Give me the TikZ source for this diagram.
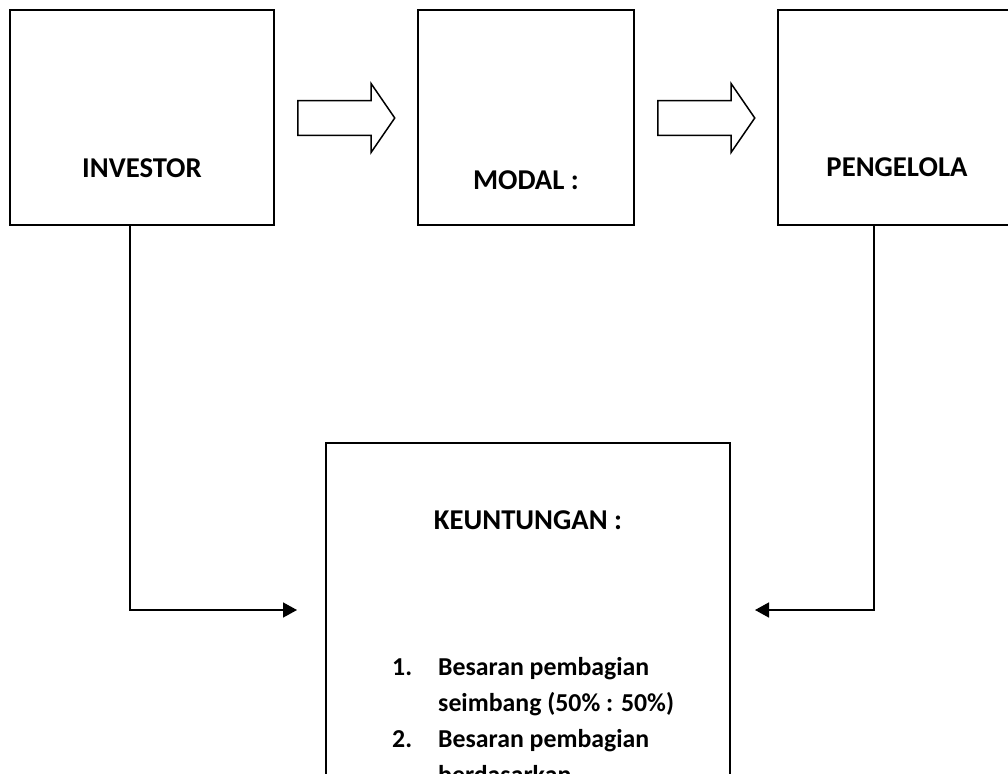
\documentclass[tikz,border=0pt]{standalone}
\usepackage{fontspec}
\setmainfont{Carlito}
\usetikzlibrary{shapes.arrows,arrows.meta}
\newcommand{\titlefont}{\fontsize{28.7}{34}\selectfont\bfseries}
\newcommand{\listfont}{\fontsize{25.8}{36}\selectfont\bfseries}

\begin{document}
\begin{tikzpicture}[x=1pt,y=-1pt,
    box/.style={draw,line width=1.5pt,minimum height=215pt,inner sep=0pt},
    title/.style={anchor=base,inner sep=0pt,font=\titlefont},
    blockarrow/.style={single arrow,draw,line width=1.5pt,inner xsep=0pt,inner ysep=16.5pt,
      minimum height=97pt,single arrow head extend=17pt,single arrow tip angle=111,anchor=tail},
    link/.style={line width=1.5pt,-{Triangle[length=14pt,width=15pt]}}]
    \clip (0,0) rectangle (1008,773);
    \node[box,minimum width=264pt] (investor) at (142,117.5) {};
    \node[box,minimum width=216pt] (modal) at (526,117.5) {};
    \node[box,minimum width=238pt] (pengelola) at (897,117.5) {};
    \node[box,minimum width=404pt,minimum height=457pt] (keuntungan) at (528,671.5) {};
    \node[title] (investortxt) at (142,177) {INVESTOR};
    \node[title] (modaltxt) at (526,189) {MODAL :};
    \node[title] (pengelolatxt) at (897,176) {PENGELOLA};
    \node[title] (keuntungantxt) at (528,529) {KEUNTUNGAN :};
    \node[anchor=base west,inner sep=0pt,font=\listfont] (keuntunganlist) at (392,675) {%
      \begin{tabular}[t]{@{}p{46pt}@{}l@{}}
        1. & Besaran pembagian\\
           & seimbang (50\% : 50\%)\\
        2. & Besaran pembagian\\
           & berdasarkan
      \end{tabular}};
    \node[blockarrow] (arrowA) at (297,118) {};
    \node[blockarrow] (arrowB) at (657,118) {};
    \coordinate (investorfoot) at (130,225);
    \coordinate (pengelolafoot) at (874,225);
    \coordinate (keuntunganL) at (297,610);
    \coordinate (keuntunganR) at (755,610);
    \draw[link] (investorfoot) |- (keuntunganL);
    \draw[link] (pengelolafoot) |- (keuntunganR);
\end{tikzpicture}
\end{document}
